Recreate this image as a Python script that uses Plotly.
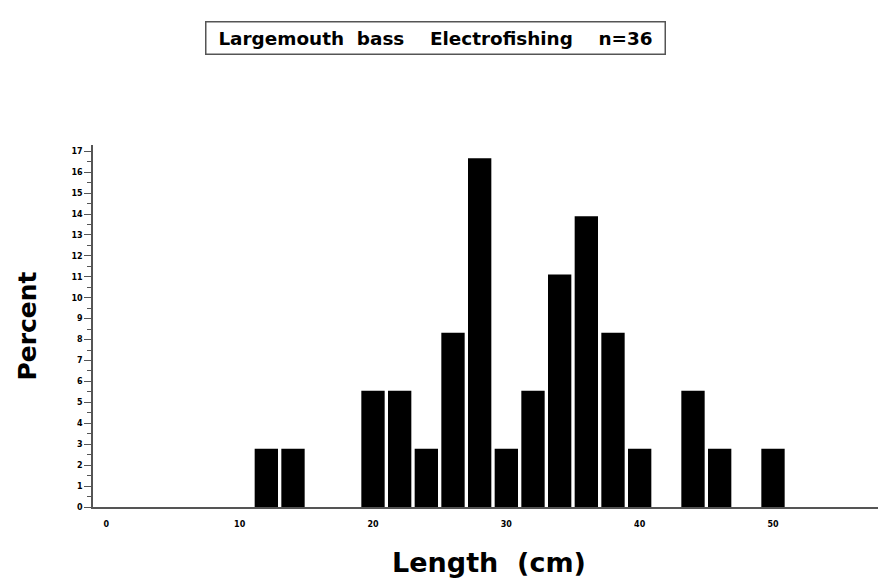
import plotly.graph_objects as go

length_bins = [12, 14, 20, 22, 24, 26, 28, 30, 32, 34, 36, 38, 40, 44, 46, 50]
percent = [2.78, 2.78, 5.56, 5.56, 2.78, 8.33, 16.67, 2.78, 5.56, 11.11, 13.89, 8.33, 2.78, 5.56, 2.78, 2.78]
x_ticks = [0, 10, 20, 30, 40, 50]
y_ticks = list(range(0, 18))
title_text = "Largemouth  bass    Electrofishing    n=36"

# page body has an 8px margin; figure sized to fit the window
W, H = 878, 575
L, R, T, B = 85, 1, 137, 76
pw, ph = W - L - R, H - T - B

fig = go.Figure()
fig.add_trace(go.Bar(x=length_bins, y=percent, width=1.75,
                     marker=dict(color="black", line=dict(width=0))))

fig.update_layout(
    width=W, height=H,
    margin=dict(l=L, r=R, t=T, b=B),
    paper_bgcolor="white", plot_bgcolor="white",
    showlegend=False,
    font=dict(family="DejaVu Sans, Liberation Sans, sans-serif", color="black"),
    xaxis=dict(range=[-1, 58.4], tickvals=x_ticks, ticks="", showgrid=False, zeroline=False,
               showline=True, linecolor="#555", linewidth=1.5,
               tickfont=dict(size=8, weight="bold"), ticklabelstandoff=9,
               title=dict(text="Length  (cm)", font=dict(size=27, weight="bold"), standoff=25)),
    yaxis=dict(range=[0, 17.3], tickvals=y_ticks, ticks="outside", ticklen=7, tickwidth=1,
               tickcolor="#555", showgrid=False, zeroline=False,
               showline=True, linecolor="#555", linewidth=1.5,
               tickfont=dict(size=8, weight="bold"),
               minor=dict(dtick=0.5, ticks="outside", ticklen=4, tickcolor="#555"),
               title=dict(text="Percent", font=dict(size=25, weight="bold"), standoff=28)),
    annotations=[dict(text=title_text, xref="paper", yref="paper",
                      x=(427 - L) / pw, y=(H - 30.5 - B) / ph, xanchor="center", yanchor="middle",
                      showarrow=False, font=dict(size=18.4, weight="bold"),
                      width=454, height=27, bordercolor="#555", borderwidth=1.5, borderpad=2,
                      bgcolor="white")],
)

fig.write_html("out.html")
